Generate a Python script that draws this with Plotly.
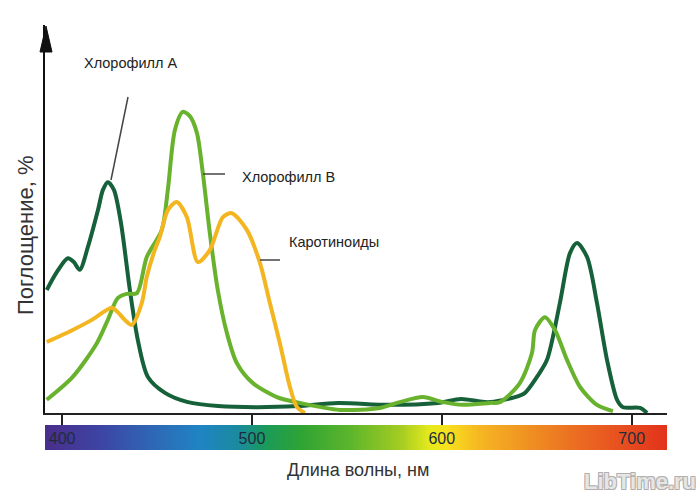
import numpy as np
import plotly.graph_objects as go

# --- data (wavelength, nm ; absorption, %) ---
chl_a_x = [391.9, 397.2, 403.0, 406.2, 409.3, 413.6, 418.9, 421.5, 424.1, 427.3, 431.0, 435.7,
           439.9, 445.2, 454.2, 466.3, 482.1, 503.2, 524.2, 545.3, 571.7, 598.0, 610.1, 624.3,
           638.6, 643.8, 650.1, 655.4, 662.2, 667.5, 671.2, 676.5, 681.7, 687.0, 692.3, 695.4,
           704.4, 708.1]
chl_a_y = [31.7, 36.3, 39.9, 38.9, 36.9, 42.8, 52.3, 57.5, 59.5, 57.5, 49.0, 31.7,
           18.8, 9.3, 5.2, 2.8, 1.8, 1.5, 1.8, 2.6, 2.1, 2.6, 3.6, 2.8,
           4.1, 5.2, 9.3, 13.7, 28.4, 41.2, 43.8, 40.2, 28.4, 13.7, 3.4, 1.5,
           1.3, 0.0]

chl_b_x = [391.9, 405.6, 418.3, 424.1, 429.3, 434.0, 439.4, 444.6, 452.5, 455.7, 459.4, 463.6,
           467.3, 471.0, 474.1, 477.8, 482.0, 486.8, 492.0, 500.5, 513.1, 525.2, 546.3, 567.4,
           577.9, 590.0, 600.6, 611.1, 625.3, 630.6, 641.1, 647.5, 649.1, 654.3, 659.6, 665.9,
           672.8, 681.7, 690.1]
chl_b_y = [3.4, 9.3, 18.0, 24.0, 29.6, 30.7, 30.9, 40.2, 47.2, 57.5, 72.9, 77.6,
           76.5, 72.2, 61.9, 46.4, 31.7, 20.6, 12.9, 7.7, 4.1, 2.6, 0.8, 1.3,
           2.8, 4.1, 2.8, 2.1, 2.6, 2.8, 7.7, 15.5, 21.4, 24.7, 21.4, 13.7,
           6.7, 2.1, 0.5]

car_x = [391.9, 405.6, 415.7, 426.2, 429.3, 433.0, 436.7, 442.0, 444.6, 448.8, 451.5, 455.7,
         460.4, 465.7, 471.5, 477.8, 484.7, 489.4, 497.3, 504.2, 509.4, 514.7, 520.0, 523.7,
         527.9]
car_y = [18.3, 21.4, 24.0, 27.1, 26.0, 24.0, 22.7, 28.4, 35.1, 42.0, 45.4, 52.3,
         54.4, 50.5, 38.9, 42.0, 50.5, 51.5, 47.2, 38.7, 28.4, 18.0, 6.7, 1.5,
         0.0]

tick_vals = [400, 500, 600, 700]
tick_text = ["400", "500", "600", "700"]
x_range = [391.0, 718.6]

names = ["Хлорофилл А", "Хлорофилл В", "Каротиноиды"]
colors = ["#17613a", "#68b22e", "#f3b520"]

spectrum_stops = [
    [0.0, "#4b2d8c"], [0.088, "#3d44a3"], [0.169, "#2f66b4"], [0.249, "#1f84c3"],
    [0.309, "#1b8aa0"], [0.354, "#1a9a5a"], [0.41, "#2ea334"], [0.49, "#5cb52c"],
    [0.571, "#a4cc22"], [0.619, "#e6ea1c"], [0.646, "#f7e11e"], [0.699, "#f6b622"],
    [0.78, "#ef8f22"], [0.86, "#eb6a22"], [0.94, "#e64a1f"], [1.0, "#e3321b"],
]

fig = go.Figure()

# spectrum bar
lam = np.linspace(x_range[0], x_range[1], 400)
fig.add_trace(go.Heatmap(x=lam, y=[0], z=[lam], colorscale=spectrum_stops,
                         zmin=x_range[0], zmax=x_range[1], showscale=False,
                         xaxis="x2", yaxis="y2", hoverinfo="skip"))

for xs, ys, c, n in [(chl_a_x, chl_a_y, colors[0], names[0]),
                     (chl_b_x, chl_b_y, colors[1], names[1]),
                     (car_x, car_y, colors[2], names[2])]:
    fig.add_trace(go.Scatter(x=xs, y=ys, mode="lines", name=n,
                             line=dict(color=c, width=4, shape="spline", smoothing=0.8)))

W0, W1 = 45, 667
T0, B0 = 25, 450


def px(x):
    return (x - W0) / (W1 - W0)


def py(y):
    return (B0 - y) / (B0 - T0)


narrow = "Liberation Sans Narrow, Arial Narrow, Liberation Sans, Arial, sans-serif"
regular = "Liberation Sans, Arial, sans-serif"

fig.update_layout(
    width=700, height=500,
    margin=dict(l=W0, r=700 - W1, t=T0, b=500 - B0),
    paper_bgcolor="white", plot_bgcolor="white",
    showlegend=False,
    xaxis=dict(range=x_range, anchor="y", showline=True, linecolor="#222", linewidth=2,
               ticks="outside", ticklen=12, tickwidth=1.5, tickcolor="#222",
               tickvals=tick_vals, showticklabels=False, showgrid=False, zeroline=False),
    yaxis=dict(range=[0, 100], domain=[py(413), 1], showline=True, linecolor="#111",
               linewidth=2, showticklabels=False, ticks="", showgrid=False, zeroline=False),
    xaxis2=dict(range=x_range, anchor="y2", matches="x", overlaying="x", tickvals=tick_vals,
                ticktext=tick_text, ticklabelposition="inside", ticks="", showline=False,
                showgrid=False, zeroline=False,
                tickfont=dict(family=narrow, size=16, color="#1d2d3c")),
    yaxis2=dict(domain=[0, py(425)], showticklabels=False, showgrid=False, zeroline=False,
                showline=False),
)

# axis arrow head
fig.add_shape(type="path", xref="paper", yref="paper",
              path=f"M {px(46)} {py(26)} L {px(40)} {py(52)} L {px(52)} {py(52)} Z",
              fillcolor="#111", line=dict(color="#111", width=1))

# leader lines
for (x0, y0, x1, y1) in [(128, 97, 111, 180), (203, 174, 225, 174), (260, 260, 280, 260)]:
    fig.add_shape(type="line", xref="paper", yref="paper",
                  x0=px(x0), y0=py(y0), x1=px(x1), y1=py(y1),
                  line=dict(color="#444", width=1.5))

ann_font = dict(family=narrow, size=14.5, color="#222")
fig.add_annotation(text=names[0], x=px(130), y=py(63), xref="paper", yref="paper",
                   showarrow=False, xanchor="center", yanchor="middle", font=ann_font)
fig.add_annotation(text=names[1], x=px(240), y=py(177), xref="paper", yref="paper",
                   showarrow=False, xanchor="left", yanchor="middle", font=ann_font)
fig.add_annotation(text=names[2], x=px(287), y=py(242), xref="paper", yref="paper",
                   showarrow=False, xanchor="left", yanchor="middle", font=ann_font)

fig.add_annotation(text="Поглощение, %", x=px(25), y=py(236), xref="paper", yref="paper",
                   showarrow=False, textangle=-90, xanchor="center", yanchor="middle",
                   font=dict(family=regular, size=22, color="#333"))
fig.add_annotation(text="Длина волны, нм", x=px(358), y=py(470), xref="paper", yref="paper",
                   showarrow=False, xanchor="center", yanchor="middle",
                   font=dict(family=narrow, size=18, color="#333"))
fig.add_annotation(text="<b>LibTime.ru</b>", x=px(640), y=py(482), xref="paper", yref="paper",
                   showarrow=False, xanchor="center", yanchor="middle",
                   font=dict(family=narrow, size=22, color="#e6e6e6",
                             shadow="-1px -1px 0 #b0b0b0, 1px -1px 0 #b0b0b0, -1px 1px 0 #b0b0b0, 1px 1px 0 #b0b0b0"))

fig.write_html("out.html")
